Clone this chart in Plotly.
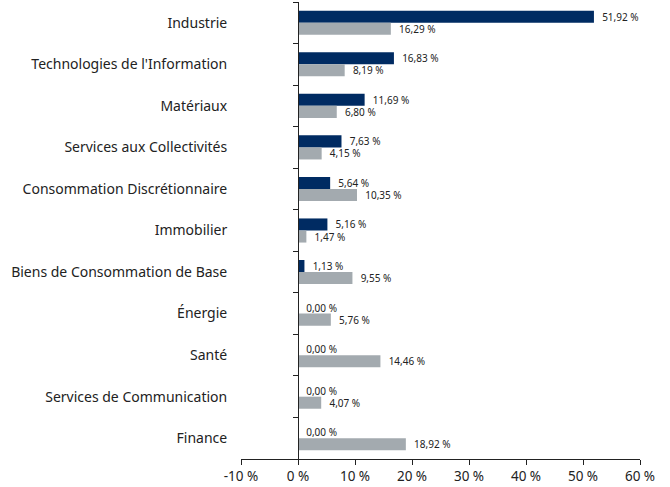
import plotly.graph_objects as go

categories = ["Industrie", "Technologies de l'Information", "Matériaux",
              "Services aux Collectivités", "Consommation Discrétionnaire",
              "Immobilier", "Biens de Consommation de Base", "Énergie",
              "Santé", "Services de Communication", "Finance"]
fund = [51.92, 16.83, 11.69, 7.63, 5.64, 5.16, 1.13, 0.00, 0.00, 0.00, 0.00]
index = [16.29, 8.19, 6.80, 4.15, 10.35, 1.47, 9.55, 5.76, 14.46, 4.07, 18.92]
tick_vals = [-10, 0, 10, 20, 30, 40, 50, 60]
tick_text = ["-10 %", "0 %", "10 %", "20 %", "30 %", "40 %", "50 %", "60 %"]

def fmt(v):
    return "\u00a0\u00a0" + f"{v:.2f}".replace(".", ",") + " %"

NAVY = "#002B62"
GRAY = "#A3AAAF"

fig = go.Figure()
fig.add_trace(go.Bar(y=categories, x=fund, orientation="h", name="Fonds",
                     marker=dict(color=NAVY, line=dict(width=0)),
                     text=[fmt(v) for v in fund], textposition="outside",
                     textfont=dict(size=10, color="#222222"), cliponaxis=False))
fig.add_trace(go.Bar(y=categories, x=index, orientation="h", name="Indice",
                     marker=dict(color=GRAY, line=dict(width=0)),
                     text=[fmt(v) for v in index], textposition="outside",
                     textfont=dict(size=10, color="#222222"), cliponaxis=False))

fig.update_layout(
    width=670, height=487,
    margin=dict(l=241, r=30, t=2, b=28),
    paper_bgcolor="white", plot_bgcolor="white",
    barmode="group", bargap=0.42, bargroupgap=0,
    showlegend=False,
    font=dict(family="Noto Sans, sans-serif", color="#222222"),
    xaxis=dict(range=[-10, 60], tickvals=tick_vals, ticktext=tick_text,
               showgrid=False, zeroline=False, showline=True, linecolor="#222222",
               linewidth=1, ticks="outside", ticklen=5, tickcolor="#222222",
               tickfont=dict(size=13.5)),
    yaxis=dict(autorange="reversed", anchor="free", position=1/7,
               showline=True, linecolor="#222222", linewidth=1,
               ticks="outside", tickson="boundaries", ticklen=5, tickcolor="#222222",
               showgrid=False, ticklabelstandoff=68,
               tickfont=dict(size=14)),
)
fig.update_traces(constraintext="none")
fig.write_html("out.html", config={"displayModeBar": False},
               post_script="document.body.style.margin='0';document.body.style.padding='0';")
